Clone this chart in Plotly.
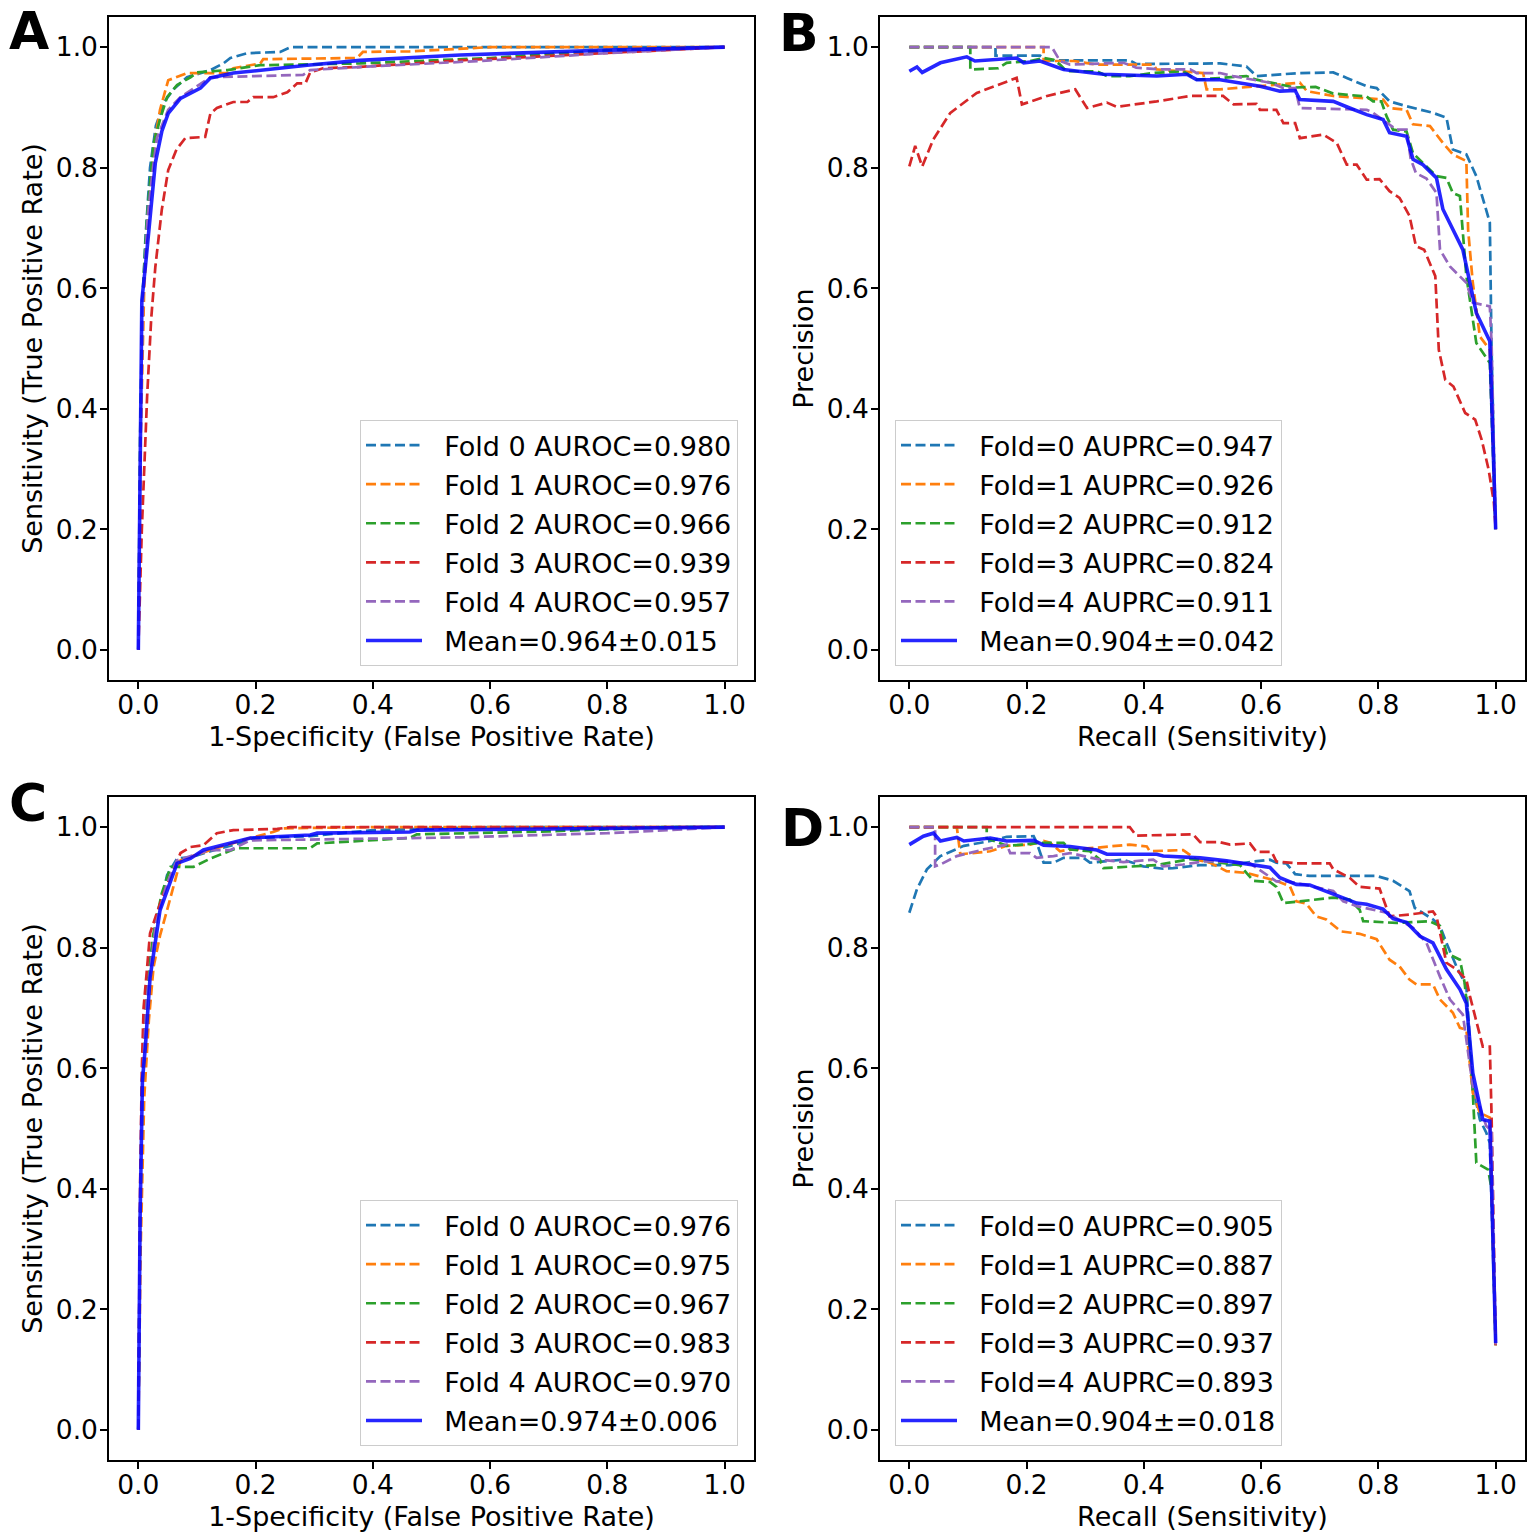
import plotly.graph_objects as go

# colours of the folds (matplotlib default cycle) and the mean curve
FOLD_COLORS = ['#1f77b4', '#ff7f0e', '#2ca02c', '#d62728', '#9467bd']
MEAN_COLOR = 'rgba(0,0,255,0.85)'

# ---------------- panel A : ROC ----------------
A_FPR = [
    [0, 0.003, 0.006, 0.012, 0.02, 0.03, 0.045, 0.06, 0.083, 0.123, 0.145, 0.157, 0.186, 0.242, 0.254, 0.26, 1.0],
    [0, 0.004, 0.01, 0.02, 0.029, 0.037, 0.051, 0.083, 0.152, 0.162, 0.208, 0.213, 0.373, 0.383, 0.463, 0.6, 1.0],
    [0, 0.003, 0.008, 0.015, 0.026, 0.037, 0.049, 0.066, 0.089, 0.1, 0.152, 0.208, 0.378, 0.6, 0.8, 1.0],
    [0, 0.006, 0.015, 0.022, 0.029, 0.04, 0.051, 0.065, 0.08, 0.114, 0.123, 0.134, 0.162, 0.186, 0.196, 0.23,
     0.254, 0.271, 0.285, 0.293, 0.315, 0.373, 0.549, 0.8, 1.0],
    [0, 0.003, 0.008, 0.016, 0.025, 0.032, 0.051, 0.072, 0.123, 0.281, 0.293, 0.378, 0.6, 0.8, 1.0],
]
A_TPR = [
    [0, 0.3, 0.55, 0.68, 0.8, 0.87, 0.91, 0.93, 0.95, 0.962, 0.973, 0.982, 0.99, 0.992, 0.998, 1.0, 1.0],
    [0, 0.35, 0.6, 0.76, 0.85, 0.896, 0.945, 0.957, 0.957, 0.965, 0.973, 0.98, 0.982, 0.992, 0.993, 1.0, 1.0],
    [0, 0.35, 0.6, 0.72, 0.84, 0.88, 0.917, 0.937, 0.95, 0.958, 0.962, 0.970, 0.973, 0.982, 0.995, 1.0],
    [0, 0.2, 0.42, 0.55, 0.635, 0.73, 0.796, 0.83, 0.849, 0.851, 0.89, 0.899, 0.909, 0.909, 0.917, 0.917,
     0.925, 0.94, 0.94, 0.958, 0.965, 0.967, 0.978, 0.99, 1.0],
    [0, 0.3, 0.58, 0.72, 0.8, 0.85, 0.896, 0.917, 0.95, 0.954, 0.962, 0.967, 0.978, 0.99, 1.0],
]
A_MEAN_FPR = [0, 0.003, 0.006, 0.012, 0.02, 0.029, 0.04, 0.051, 0.072, 0.106, 0.123, 0.162, 0.213, 0.288,
              0.378, 0.549, 0.8, 1.0]
A_MEAN_TPR = [0, 0.35, 0.58, 0.635, 0.72, 0.808, 0.86, 0.89, 0.915, 0.932, 0.949, 0.957, 0.962, 0.970,
              0.978, 0.987, 0.995, 1.0]
A_LABELS = ['Fold 0 AUROC=0.980', 'Fold 1 AUROC=0.976', 'Fold 2 AUROC=0.966',
            'Fold 3 AUROC=0.939', 'Fold 4 AUROC=0.957', 'Mean=0.964±0.015']

# ---------------- panel B : PR ----------------
B_REC = [
    [0, 0.147, 0.147, 0.223, 0.235, 0.376, 0.387, 0.53, 0.575, 0.592, 0.666, 0.723, 0.746, 0.78, 0.797, 0.819,
     0.848, 0.893, 0.916, 0.927, 0.95, 0.967, 0.99, 0.993, 1.0],
    [0, 0.229, 0.229, 0.281, 0.32, 0.416, 0.422, 0.501, 0.507, 0.53, 0.666, 0.678, 0.723, 0.808, 0.819, 0.848,
     0.859, 0.888, 0.91, 0.927, 0.95, 0.953, 0.961, 0.973, 0.99, 1.0],
    [0, 0.104, 0.104, 0.152, 0.166, 0.206, 0.229, 0.246, 0.257, 0.268, 0.32, 0.337, 0.376, 0.416, 0.467, 0.49,
     0.575, 0.592, 0.658, 0.693, 0.723, 0.78, 0.791, 0.805, 0.814, 0.825, 0.848, 0.859, 0.882, 0.899, 0.916,
     0.927, 0.939, 0.95, 0.967, 0.99, 1.0],
    [0, 0.01, 0.022, 0.041, 0.07, 0.115, 0.183, 0.192, 0.235, 0.283, 0.303, 0.337, 0.354, 0.422, 0.479, 0.535,
     0.553, 0.592, 0.598, 0.626, 0.638, 0.658, 0.666, 0.706, 0.729, 0.746, 0.763, 0.78, 0.802, 0.819, 0.836,
     0.853, 0.864, 0.878, 0.897, 0.903, 0.914, 0.928, 0.948, 0.965, 0.976, 0.988, 0.997, 1.0],
    [0, 0.243, 0.257, 0.274, 0.365, 0.387, 0.428, 0.479, 0.49, 0.53, 0.552, 0.581, 0.615, 0.638, 0.658, 0.666,
     0.78, 0.791, 0.831, 0.848, 0.855, 0.864, 0.882, 0.899, 0.905, 0.922, 0.95, 0.961, 0.99, 0.993, 1.0],
]
B_PREC = [
    [1.0, 1.0, 0.986, 0.986, 0.978, 0.978, 0.972, 0.973, 0.968, 0.952, 0.957, 0.958, 0.949, 0.935, 0.932, 0.91,
     0.902, 0.891, 0.883, 0.83, 0.822, 0.786, 0.709, 0.498, 0.2],
    [1.0, 1.0, 0.977, 0.977, 0.971, 0.971, 0.963, 0.957, 0.93, 0.93, 0.941, 0.927, 0.919, 0.913, 0.899, 0.896,
     0.872, 0.869, 0.841, 0.822, 0.811, 0.697, 0.609, 0.52, 0.498, 0.2],
    [1.0, 1.0, 0.963, 0.965, 0.974, 0.977, 0.982, 0.979, 0.971, 0.96, 0.96, 0.952, 0.952, 0.957, 0.96, 0.946,
     0.952, 0.946, 0.933, 0.934, 0.923, 0.918, 0.91, 0.91, 0.885, 0.863, 0.86, 0.824, 0.802, 0.786, 0.783,
     0.758, 0.753, 0.62, 0.509, 0.476, 0.2],
    [0.802, 0.836, 0.802, 0.847, 0.891, 0.924, 0.949, 0.905, 0.919, 0.93, 0.899, 0.908, 0.901, 0.91, 0.919, 0.919,
     0.905, 0.906, 0.896, 0.896, 0.874, 0.874, 0.849, 0.855, 0.841, 0.805, 0.805, 0.78, 0.781, 0.761, 0.75,
     0.72, 0.67, 0.664, 0.62, 0.498, 0.448, 0.437, 0.393, 0.382, 0.349, 0.299, 0.244, 0.2],
    [1.0, 1.0, 0.977, 0.971, 0.974, 0.966, 0.963, 0.963, 0.957, 0.957, 0.952, 0.947, 0.941, 0.932, 0.932, 0.899,
     0.896, 0.891, 0.863, 0.863, 0.815, 0.791, 0.782, 0.758, 0.664, 0.636, 0.609, 0.576, 0.57, 0.509, 0.2],
]
B_MEAN_REC = [0, 0.013, 0.022, 0.053, 0.098, 0.112, 0.183, 0.195, 0.223, 0.263, 0.331, 0.422, 0.473, 0.49,
              0.53, 0.552, 0.598, 0.632, 0.658, 0.666, 0.723, 0.751, 0.78, 0.808, 0.819, 0.848, 0.859, 0.876,
              0.899, 0.91, 0.927, 0.944, 0.967, 0.99, 1.0]
B_MEAN_PREC = [0.96, 0.967, 0.958, 0.974, 0.984, 0.977, 0.982, 0.974, 0.977, 0.963, 0.955, 0.952, 0.955, 0.946,
               0.946, 0.942, 0.935, 0.927, 0.928, 0.913, 0.91, 0.899, 0.888, 0.88, 0.858, 0.852, 0.814, 0.805,
               0.783, 0.731, 0.697, 0.664, 0.559, 0.512, 0.2]
B_LABELS = ['Fold=0 AUPRC=0.947', 'Fold=1 AUPRC=0.926', 'Fold=2 AUPRC=0.912',
            'Fold=3 AUPRC=0.824', 'Fold=4 AUPRC=0.911', 'Mean=0.904±=0.042']

# ---------------- panel C : ROC ----------------
C_FPR = [
    [0, 0.003, 0.007, 0.012, 0.02, 0.03, 0.04, 0.049, 0.066, 0.089, 0.123, 0.179, 0.196, 0.293, 0.4, 0.6, 1.0],
    [0, 0.004, 0.01, 0.018, 0.026, 0.037, 0.049, 0.066, 0.072, 0.123, 0.191, 0.23, 0.247, 0.4, 1.0],
    [0, 0.003, 0.008, 0.015, 0.025, 0.04, 0.055, 0.094, 0.123, 0.168, 0.293, 0.305, 0.463, 0.475, 0.7, 0.9, 1.0],
    [0, 0.003, 0.006, 0.009, 0.02, 0.043, 0.072, 0.089, 0.111, 0.134, 0.162, 0.237, 0.259, 1.0],
    [0, 0.003, 0.008, 0.015, 0.03, 0.049, 0.066, 0.123, 0.157, 0.191, 0.549, 0.8, 1.0],
]
C_TPR = [
    [0, 0.35, 0.6, 0.7, 0.78, 0.84, 0.88, 0.92, 0.948, 0.95, 0.96, 0.975, 0.982, 0.985, 0.995, 1.0, 1.0],
    [0, 0.3, 0.55, 0.68, 0.768, 0.82, 0.862, 0.924, 0.945, 0.962, 0.982, 0.992, 0.998, 1.0, 1.0],
    [0, 0.35, 0.6, 0.72, 0.82, 0.89, 0.934, 0.934, 0.948, 0.965, 0.965, 0.973, 0.982, 0.988, 0.993, 1.0, 1.0],
    [0, 0.4, 0.6, 0.7, 0.824, 0.89, 0.957, 0.967, 0.970, 0.990, 0.995, 0.997, 1.0, 1.0],
    [0, 0.35, 0.6, 0.72, 0.84, 0.907, 0.945, 0.962, 0.962, 0.978, 0.983, 0.99, 1.0],
]
C_MEAN_FPR = [0, 0.003, 0.007, 0.012, 0.02, 0.037, 0.066, 0.089, 0.111, 0.145, 0.191, 0.293, 0.305, 0.463,
              0.475, 0.7, 1.0]
C_MEAN_TPR = [0, 0.35, 0.58, 0.635, 0.75, 0.862, 0.94, 0.948, 0.962, 0.970, 0.982, 0.987, 0.99, 0.992,
              0.995, 0.997, 1.0]
C_LABELS = ['Fold 0 AUROC=0.976', 'Fold 1 AUROC=0.975', 'Fold 2 AUROC=0.967',
            'Fold 3 AUROC=0.983', 'Fold 4 AUROC=0.970', 'Mean=0.974±0.006']

# ---------------- panel D : PR ----------------
D_REC = [
    [0, 0.013, 0.03, 0.053, 0.093, 0.138, 0.166, 0.212, 0.217, 0.229, 0.246, 0.263, 0.297, 0.308, 0.365, 0.399,
     0.433, 0.45, 0.496, 0.547, 0.587, 0.615, 0.626, 0.643, 0.658, 0.683, 0.797, 0.825, 0.853, 0.862, 0.893,
     0.905, 0.916, 0.933, 0.95, 0.961, 0.973, 0.984, 0.99, 1.0],
    [0, 0.081, 0.087, 0.138, 0.166, 0.206, 0.229, 0.24, 0.257, 0.268, 0.32, 0.376, 0.405, 0.41, 0.467, 0.49,
     0.513, 0.541, 0.575, 0.598, 0.626, 0.649, 0.66, 0.677, 0.694, 0.711, 0.736, 0.768, 0.797, 0.808, 0.819,
     0.836, 0.853, 0.865, 0.893, 0.905, 0.927, 0.939, 0.95, 0.961, 0.973, 0.99, 1.0],
    [0, 0.132, 0.132, 0.166, 0.195, 0.223, 0.263, 0.274, 0.308, 0.325, 0.331, 0.376, 0.422, 0.479, 0.564, 0.575,
     0.587, 0.615, 0.626, 0.638, 0.666, 0.723, 0.751, 0.768, 0.774, 0.831, 0.887, 0.905, 0.916, 0.939, 0.947,
     0.95, 0.961, 0.967, 0.987, 0.993, 1.0],
    [0, 0.376, 0.387, 0.484, 0.496, 0.53, 0.547, 0.581, 0.592, 0.618, 0.626, 0.66, 0.717, 0.723, 0.751, 0.768,
     0.802, 0.811, 0.819, 0.853, 0.893, 0.899, 0.916, 0.933, 0.95, 0.956, 0.978, 0.99, 0.993, 1.0],
    [0, 0.044, 0.044, 0.053, 0.081, 0.127, 0.166, 0.172, 0.206, 0.217, 0.246, 0.274, 0.325, 0.365, 0.416, 0.433,
     0.467, 0.501, 0.53, 0.581, 0.626, 0.643, 0.666, 0.723, 0.74, 0.763, 0.814, 0.859, 0.882, 0.905, 0.922,
     0.944, 0.961, 0.984, 0.993, 1.0],
]
D_PREC = [
    [0.858, 0.897, 0.93, 0.952, 0.969, 0.977, 0.984, 0.985, 0.975, 0.941, 0.941, 0.949, 0.949, 0.941, 0.946,
     0.935, 0.931, 0.932, 0.937, 0.937, 0.943, 0.946, 0.941, 0.94, 0.922, 0.919, 0.919, 0.911, 0.894, 0.866,
     0.847, 0.836, 0.808, 0.769, 0.736, 0.57, 0.515, 0.493, 0.476, 0.14],
    [1.0, 1.0, 0.955, 0.96, 0.969, 0.971, 0.977, 0.974, 0.96, 0.962, 0.966, 0.971, 0.968, 0.96, 0.962, 0.946,
     0.941, 0.927, 0.924, 0.918, 0.911, 0.902, 0.877, 0.873, 0.852, 0.847, 0.827, 0.823, 0.814, 0.797, 0.78,
     0.769, 0.747, 0.739, 0.739, 0.714, 0.692, 0.667, 0.664, 0.559, 0.526, 0.518, 0.14],
    [1.0, 1.0, 0.982, 0.969, 0.971, 0.974, 0.974, 0.963, 0.96, 0.946, 0.932, 0.935, 0.937, 0.947, 0.937, 0.924,
     0.911, 0.909, 0.901, 0.874, 0.877, 0.883, 0.88, 0.863, 0.844, 0.841, 0.844, 0.836, 0.791, 0.78, 0.742,
     0.714, 0.559, 0.443, 0.432, 0.40, 0.14],
    [1.0, 1.0, 0.986, 0.988, 0.975, 0.975, 0.971, 0.973, 0.959, 0.959, 0.943, 0.94, 0.94, 0.93, 0.916, 0.901,
     0.898, 0.872, 0.852, 0.855, 0.86, 0.852, 0.775, 0.764, 0.747, 0.72, 0.636, 0.636, 0.52, 0.14],
    [1.0, 1.0, 0.935, 0.938, 0.952, 0.963, 0.971, 0.957, 0.957, 0.949, 0.952, 0.957, 0.946, 0.942, 0.946, 0.935,
     0.938, 0.943, 0.943, 0.94, 0.91, 0.91, 0.906, 0.894, 0.877, 0.869, 0.858, 0.833, 0.808, 0.752, 0.714,
     0.689, 0.57, 0.504, 0.496, 0.14],
]
D_MEAN_REC = [0, 0.024, 0.041, 0.053, 0.081, 0.093, 0.138, 0.166, 0.212, 0.229, 0.274, 0.32, 0.337, 0.422,
              0.433, 0.496, 0.541, 0.587, 0.615, 0.632, 0.66, 0.683, 0.736, 0.763, 0.78, 0.808, 0.825, 0.848,
              0.871, 0.893, 0.916, 0.939, 0.95, 0.961, 0.978, 0.99, 1.0]
D_MEAN_PREC = [0.971, 0.985, 0.99, 0.977, 0.983, 0.977, 0.982, 0.977, 0.978, 0.970, 0.968, 0.962, 0.955, 0.955,
               0.952, 0.949, 0.944, 0.938, 0.933, 0.916, 0.905, 0.904, 0.885, 0.874, 0.872, 0.864, 0.848, 0.842,
               0.819, 0.808, 0.764, 0.731, 0.708, 0.592, 0.515, 0.512, 0.144]
D_LABELS = ['Fold=0 AUPRC=0.905', 'Fold=1 AUPRC=0.887', 'Fold=2 AUPRC=0.897',
            'Fold=3 AUPRC=0.937', 'Fold=4 AUPRC=0.893', 'Mean=0.904±=0.018']

W, H = 1535, 1540
FONT = 'DejaVu Sans'
TICK_FS = 26.5
FS = 27
PAD = '\u00a0\u00a0'  # gap between the legend line and its text

fig = go.Figure()

panels = [
    # xs, ys, mean x, mean y, labels, axis suffix, legend name
    (A_FPR, A_TPR, A_MEAN_FPR, A_MEAN_TPR, A_LABELS, '', 'legend'),
    (B_REC, B_PREC, B_MEAN_REC, B_MEAN_PREC, B_LABELS, '2', 'legend2'),
    (C_FPR, C_TPR, C_MEAN_FPR, C_MEAN_TPR, C_LABELS, '3', 'legend3'),
    (D_REC, D_PREC, D_MEAN_REC, D_MEAN_PREC, D_LABELS, '4', 'legend4'),
]

for xs, ys, mx, my, labels, ax, leg in panels:
    for i in range(5):
        fig.add_trace(go.Scatter(x=xs[i], y=ys[i], mode='lines', name=PAD + labels[i],
                                 line=dict(color=FOLD_COLORS[i], width=2.7, dash='10px,4.5px'),
                                 xaxis='x' + ax, yaxis='y' + ax, legend=leg,
                                 legendgroup=leg + str(i)))
    fig.add_trace(go.Scatter(x=mx, y=my, mode='lines', name=PAD + labels[5],
                             line=dict(color=MEAN_COLOR, width=3.6),
                             xaxis='x' + ax, yaxis='y' + ax, legend=leg,
                             legendgroup=leg + '5'))

# panel boxes in pixels (left, right, top, bottom)
boxes = {'': (109, 754, 17, 680), '2': (880, 1525, 17, 680),
         '3': (109, 754, 797, 1460), '4': (880, 1525, 797, 1460)}
xtitles = {'': '1-Specificity (False Positive Rate)', '2': 'Recall (Sensitivity)',
           '3': '1-Specificity (False Positive Rate)', '4': 'Recall (Sensitivity)'}
ytitles = {'': 'Sensitivity (True Positive Rate)', '2': 'Precision',
           '3': 'Sensitivity (True Positive Rate)', '4': 'Precision'}

axis_common = dict(range=[-0.05, 1.05], tickvals=[0, 0.2, 0.4, 0.6, 0.8, 1.0], tickformat='.1f',
                   showline=True, mirror=True, linecolor='black', linewidth=1.5,
                   ticks='outside', ticklen=7, tickwidth=1.5, tickcolor='black',
                   showgrid=False, zeroline=False,
                   tickfont=dict(family=FONT, size=TICK_FS, color='black'))

layout = {}
for ax, (l, r, t, b) in boxes.items():
    layout['xaxis' + ax] = dict(axis_common, domain=[l / W, r / W], anchor='y' + ax,
                                ticklabelstandoff=-7,
                                title=dict(text=xtitles[ax], standoff=9,
                                           font=dict(family=FONT, size=FS, color='black')))
    layout['yaxis' + ax] = dict(axis_common, domain=[1 - b / H, 1 - t / H], anchor='x' + ax,
                                ticklabelstandoff=-3,
                                title=dict(text=ytitles[ax], standoff=5,
                                           font=dict(family=FONT, size=FS, color='black')))
fig.update_layout(**layout)

legend_pos = {'legend': (360, 420), 'legend2': (895, 420), 'legend3': (360, 1200), 'legend4': (895, 1200)}
for leg, (lx, ly) in legend_pos.items():
    fig.update_layout({leg: dict(x=lx / W, y=1 - ly / H, xanchor='left', yanchor='top',
                                 bgcolor='rgba(255,255,255,0.8)', bordercolor='#cccccc', borderwidth=1,
                                 font=dict(family=FONT, size=FS, color='black'),
                                 itemwidth=56, tracegroupgap=1, traceorder='grouped')})

# panel letters
letters = [('A', 29, 31), ('B', 799, 33), ('C', 28, 803), ('D', 802, 828)]
for txt, px, py in letters:
    fig.add_annotation(text='<b>' + txt + '</b>', x=px / W, y=1 - py / H, xref='paper', yref='paper',
                       xanchor='center', yanchor='middle', showarrow=False,
                       font=dict(family=FONT, size=52, color='black'))

fig.update_layout(width=W, height=H, margin=dict(l=0, r=0, t=0, b=0),
                  paper_bgcolor='white', plot_bgcolor='white', showlegend=True,
                  font=dict(family=FONT, size=FS, color='black'))

# the page body has a default 8px margin; remove it so the figure sits at the corner
fig.write_html("out.html", config={'displayModeBar': False},
               post_script="document.body.style.margin='0px';")
